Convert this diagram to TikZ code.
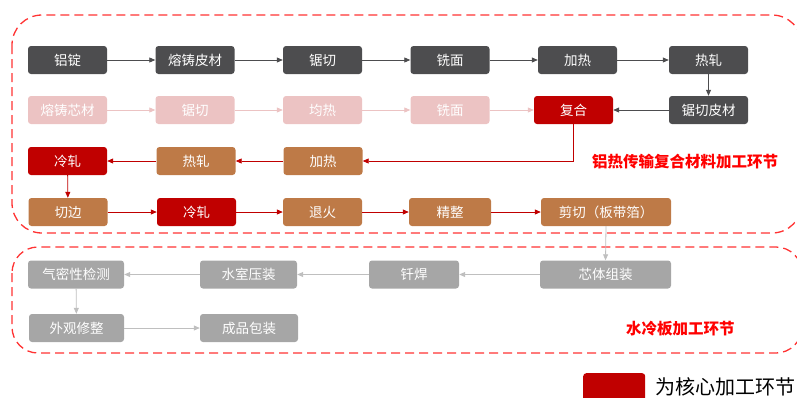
\documentclass[tikz,border=0pt]{standalone}
\usepackage{fontspec}
\setmainfont{Noto Sans CJK SC}
\usetikzlibrary{arrows.meta}
\definecolor{dk}{HTML}{4D4D4F}
\definecolor{pk}{HTML}{ECC3C3}
\definecolor{rd}{HTML}{C00000}
\definecolor{br}{HTML}{BE7A47}
\definecolor{gy}{HTML}{A6A6A6}
\definecolor{gyl}{HTML}{BFBFBF}
\definecolor{brd}{HTML}{FF3333}
\tikzset{
  box/.style={rounded corners=3pt, minimum width=79pt, minimum height=28pt, inner sep=0pt, text=white, font=\fontsize{13.5}{14}\selectfont},
  dkbox/.style={box, fill=dk},
  pkbox/.style={box, fill=pk},
  rdbox/.style={box, fill=rd},
  brbox/.style={box, fill=br},
  gybox/.style={box, fill=gy},
  arr/.style={-{Triangle[length=6pt,width=5pt]}, line width=0.8pt},
  dkarr/.style={arr, draw=dk},
  pkarr/.style={arr, draw=pk},
  rdarr/.style={arr, draw=rd},
  gyarr/.style={arr, draw=gyl},
  frame/.style={draw=brd, line width=1.3pt, dash pattern=on 9pt off 5pt},
  title/.style={text=red, font=\fontsize{15.5}{16}\selectfont\bfseries, inner sep=0pt}
}
\begin{document}
\begin{tikzpicture}[x=1pt,y=-1pt]
\useasboundingbox (0,0) rectangle (797,397);
\clip (0,0) rectangle (797,397);
\draw[frame, rounded corners=30pt] (12,15) rectangle (802,233);
\draw[frame, rounded corners=26pt] (12,247) rectangle (802,353);
% row 1
\node[dkbox] (a1) at (67.5,60) {铝锭};
\node[dkbox] (a2) at (195,60) {熔铸皮材};
\node[dkbox] (a3) at (322.5,60) {锯切};
\node[dkbox] (a4) at (450,60) {铣面};
\node[dkbox] (a5) at (577.5,60) {加热};
\node[dkbox] (a6) at (708.5,60) {热轧};
% row 2
\node[pkbox] (b1) at (67.5,110) {熔铸芯材};
\node[pkbox] (b2) at (195,110) {锯切};
\node[pkbox] (b3) at (322.5,110) {均热};
\node[pkbox] (b4) at (450,110) {铣面};
\node[rdbox] (b5) at (573.5,110) {复合};
\node[dkbox] (b6) at (708.5,110) {锯切皮材};
% row 3
\node[rdbox] (c1) at (67.5,161) {冷轧};
\node[brbox] (c2) at (196,161) {热轧};
\node[brbox] (c3) at (323,161) {加热};
% row 4
\node[brbox] (d1) at (68,212) {切边};
\node[rdbox] (d2) at (196.5,212) {冷轧};
\node[brbox] (d3) at (322.5,212) {退火};
\node[brbox, minimum width=82pt] (d4) at (450,212) {精整};
\node[brbox, minimum width=130pt] (d5) at (606,212) {剪切（板带箔）};
% row 5
\node[gybox, minimum width=96pt] (e1) at (76,274.5) {气密性检测};
\node[gybox, minimum width=97pt] (e2) at (248.5,274.5) {水室压装};
\node[gybox, minimum width=90pt] (e3) at (414,274.5) {钎焊};
\node[gybox, minimum width=131pt] (e4) at (605.5,274.5) {芯体组装};
% row 6
\node[gybox, minimum width=95pt] (f1) at (76.5,328) {外观修整};
\node[gybox, minimum width=98pt] (f2) at (249,328) {成品包装};
% labels
\node[title, anchor=west] (t1) at (592,162) {铝热传输复合材料加工环节};
\node[title, anchor=west] (t2) at (626,329) {水冷板加工环节};
\node[fill=rd, rounded corners=3pt, minimum width=62pt, minimum height=30pt, inner sep=0pt, anchor=north west] (lg) at (583,373) {};
\node[anchor=west, inner sep=0pt, font=\fontsize{20}{20}\selectfont] (lt) at (655,387) {为核心加工环节};
% arrows
\draw[dkarr] (a1) -- (a2);
\draw[dkarr] (a2) -- (a3);
\draw[dkarr] (a3) -- (a4);
\draw[dkarr] (a4) -- (a5);
\draw[dkarr] (a5) -- (a6);
\draw[dkarr] (a6) -- (b6);
\draw[dkarr] (b6) -- (b5);
\draw[pkarr] (b1) -- (b2);
\draw[pkarr] (b2) -- (b3);
\draw[pkarr] (b3) -- (b4);
\draw[pkarr] (b4) -- (b5);
\draw[rdarr] (b5.south) |- (c3.east);
\draw[rdarr] (c3) -- (c2);
\draw[rdarr] (c2) -- (c1);
\draw[rdarr] (c1) -- (d1);
\draw[rdarr] (d1) -- (d2);
\draw[rdarr] (d2) -- (d3);
\draw[rdarr] (d3) -- (d4);
\draw[rdarr] (d4) -- (d5);
\draw[gyarr] (d5.south) -- (e4.north);
\draw[gyarr] (e4) -- (e3);
\draw[gyarr] (e3) -- (e2);
\draw[gyarr] (e2) -- (e1);
\draw[gyarr] (e1) -- (f1);
\draw[gyarr] (f1) -- (f2);
\end{tikzpicture}
\end{document}
